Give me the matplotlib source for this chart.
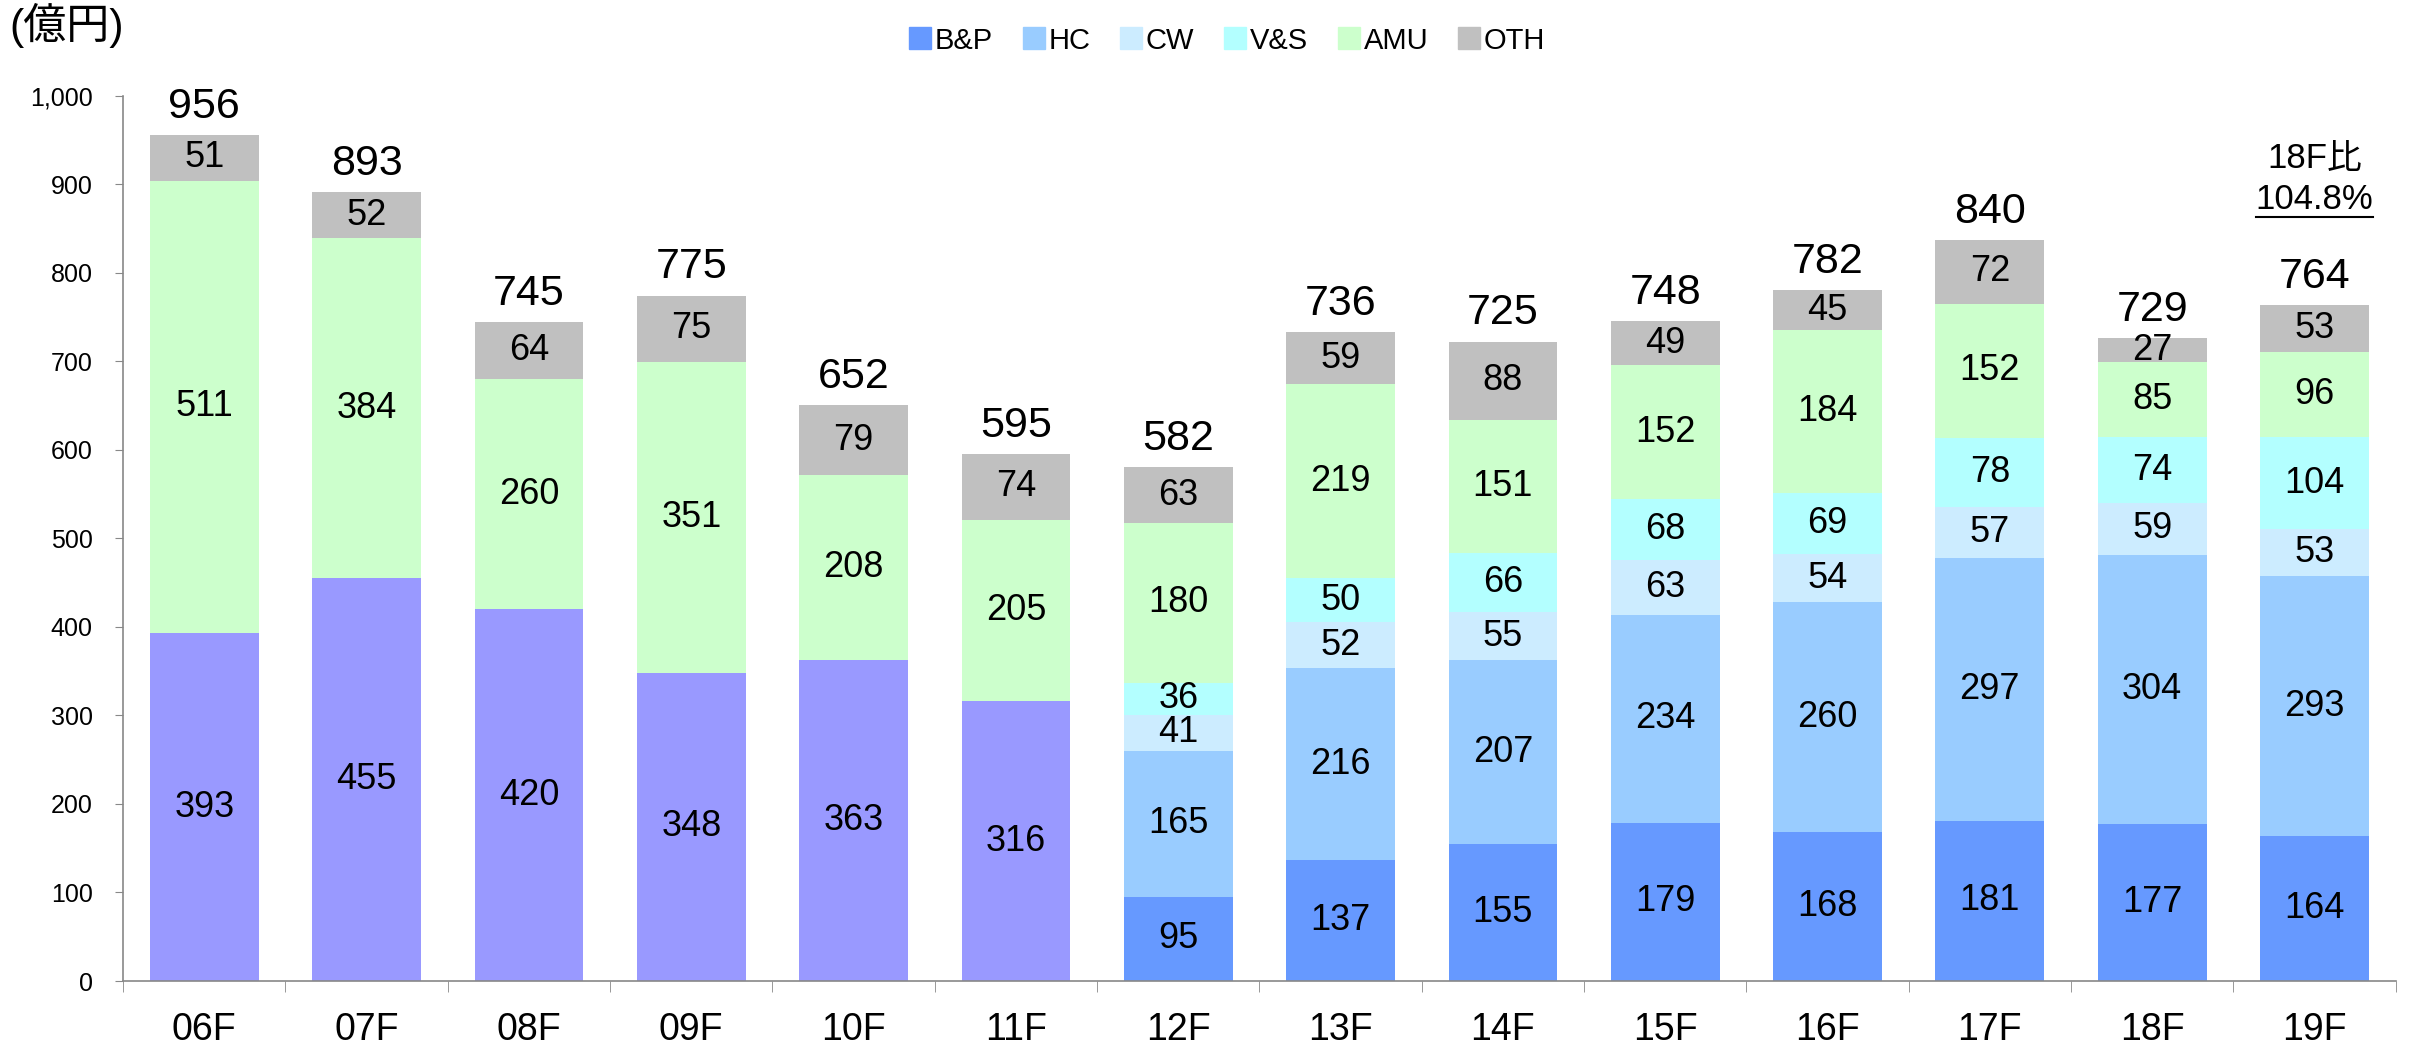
import matplotlib
matplotlib.use("Agg")
import matplotlib.pyplot as plt
from matplotlib.lines import Line2D
from matplotlib.ticker import FuncFormatter, FixedLocator
import numpy as np

plt.rcParams["font.family"] = ["Liberation Sans", "Noto Sans CJK JP"]

# data (億円)
years = ["06F", "07F", "08F", "09F", "10F", "11F", "12F",
         "13F", "14F", "15F", "16F", "17F", "18F", "19F"]
old_seg = [393, 455, 420, 348, 363, 316, 0, 0, 0, 0, 0, 0, 0, 0]
bp = [0, 0, 0, 0, 0, 0, 95, 137, 155, 179, 168, 181, 177, 164]
hc = [0, 0, 0, 0, 0, 0, 165, 216, 207, 234, 260, 297, 304, 293]
cw = [0, 0, 0, 0, 0, 0, 41, 52, 55, 63, 54, 57, 59, 53]
vs = [0, 0, 0, 0, 0, 0, 36, 50, 66, 68, 69, 78, 74, 104]
amu = [511, 384, 260, 351, 208, 205, 180, 219, 151, 152, 184, 152, 85, 96]
oth = [51, 52, 64, 75, 79, 74, 63, 59, 88, 49, 45, 72, 27, 53]
totals = [956, 893, 745, 775, 652, 595, 582, 736, 725, 748, 782, 840, 729, 764]

series = [
    (None, old_seg, "#9999FF"),
    ("B&P", bp, "#6699FF"),
    ("HC", hc, "#99CCFF"),
    ("CW", cw, "#CCECFF"),
    ("V&S", vs, "#B3FFFF"),
    ("AMU", amu, "#CCFFCC"),
    ("OTH", oth, "#C0C0C0"),
]

fig = plt.figure(figsize=(24.15, 10.43), dpi=100)
ax = fig.add_axes([0.051, 0.0594, 0.941, 0.849])

x = np.arange(len(years))
width = 0.67
bottom = np.zeros(len(years))
handles = []
for label, vals, color in series:
    vals = np.array(vals, dtype=float)
    bars = ax.bar(x, vals, width, bottom=bottom, color=color, zorder=2)
    texts = [str(int(v)) if v > 0 else "" for v in vals]
    ax.bar_label(bars, labels=texts, label_type="center", fontsize=26)
    bottom += vals
    if label is not None:
        handles.append((Line2D([0], [0], marker="s", linestyle="none",
                               markersize=16, markerfacecolor=color,
                               markeredgecolor=color), label))

tops = bottom
for xi, top, tot in zip(x, tops, totals):
    ax.annotate(str(tot), (xi, top), xytext=(0, 6), textcoords="offset points",
                ha="center", va="bottom", fontsize=31)

ax.set_xlim(-0.5, len(years) - 0.5)
ax.set_ylim(0, 1000)
ax.set_yticks(np.arange(0, 1001, 100))
ax.yaxis.set_major_formatter(FuncFormatter(lambda v, p: f"{int(v):,}"))
ax.tick_params(axis="y", labelsize=18, length=6, color="#888888", pad=16)

ax.set_xticks(x)
ax.set_xticklabels(years, fontsize=27)
ax.xaxis.set_minor_locator(FixedLocator(np.arange(-0.5, len(years), 1.0)))
ax.tick_params(axis="x", which="major", length=0, pad=22)
ax.tick_params(axis="x", which="minor", length=8, color="#888888")

for s in ["top", "right"]:
    ax.spines[s].set_visible(False)
for s in ["left", "bottom"]:
    ax.spines[s].set_color("#888888")
    ax.spines[s].set_linewidth(1.2)

fig.legend([h for h, _ in handles], [l for _, l in handles],
           loc="center", bbox_to_anchor=(0.508, 0.961), ncol=6, frameon=False,
           fontsize=21, handletextpad=0.1, columnspacing=1.0, handlelength=0.8)

fig.text(0.004, 0.976, "(億円)", fontsize=31, ha="left", va="center")

# 18F comparison note above the last bar
ax.annotate("18F比", (x[-1], tops[-1]), xytext=(0, 106), textcoords="offset points",
            ha="center", va="center", fontsize=25)
pct = ax.annotate("104.8%", (x[-1], tops[-1]), xytext=(0, 76),
                  textcoords="offset points", ha="center", va="center", fontsize=25)
fig.canvas.draw()
bb = pct.get_window_extent().transformed(fig.transFigure.inverted())
fig.add_artist(Line2D([bb.x0, bb.x1], [bb.y0 - 0.001, bb.y0 - 0.001],
                      color="black", linewidth=1.5, transform=fig.transFigure))

fig.savefig("out.png", dpi=100)
